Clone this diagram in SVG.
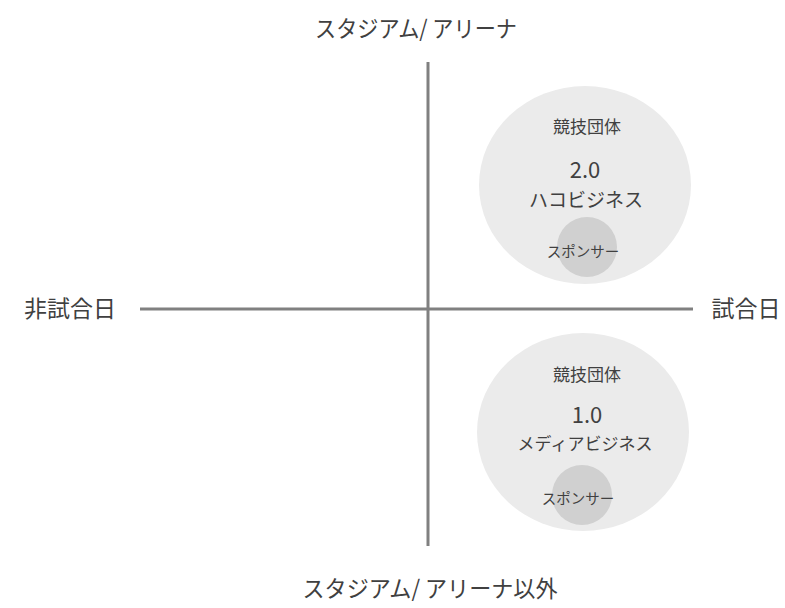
<svg xmlns="http://www.w3.org/2000/svg" width="785" height="608" viewBox="0 0 785 608">
<style>
text{font-family:"Noto Sans CJK JP","Noto Sans",sans-serif;fill:#404040;text-anchor:middle}
.axis{stroke:#808080;stroke-width:3;fill:none}
.big{fill:#ebebeb}
.small{fill:#d0d0d0}
.lbl{font-size:23px}
</style>
<g id="connectors">
<line class="axis" x1="428" y1="62" x2="428" y2="546"/>
<line class="axis" x1="140" y1="309" x2="693" y2="309"/>
</g>
<g id="label-top"><text class="lbl" x="416" y="37" textLength="202" lengthAdjust="spacingAndGlyphs">スタジアム/ アリーナ</text></g>
<g id="label-bottom"><text class="lbl" x="430" y="597" textLength="255" lengthAdjust="spacingAndGlyphs">スタジアム/ アリーナ以外</text></g>
<g id="label-left"><text class="lbl" x="70" y="317" font-size="25">非試合日</text></g>
<g id="label-right"><text class="lbl" x="746" y="317" font-size="24">試合日</text></g>
<g id="node-top">
<ellipse class="big" cx="585" cy="185" rx="106" ry="99"/>
<text x="587" y="133" font-size="17">競技団体</text>
<text x="585" y="178" font-size="22">2.0</text>
<text x="586" y="207" font-size="19">ハコビジネス</text>
</g>
<g id="node-top-sponsor">
<circle class="small" cx="587" cy="247" r="30"/>
<text x="583" y="257" font-size="14.5">スポンサー</text>
</g>
<g id="node-bottom">
<ellipse class="big" cx="583" cy="432" rx="106" ry="99"/>
<text x="587" y="381" font-size="17">競技団体</text>
<text x="587" y="423" font-size="22">1.0</text>
<text x="585" y="450" font-size="17">メディアビジネス</text>
</g>
<g id="node-bottom-sponsor">
<circle class="small" cx="582" cy="495" r="30"/>
<text x="578" y="504" font-size="14.5">スポンサー</text>
</g>
</svg>
